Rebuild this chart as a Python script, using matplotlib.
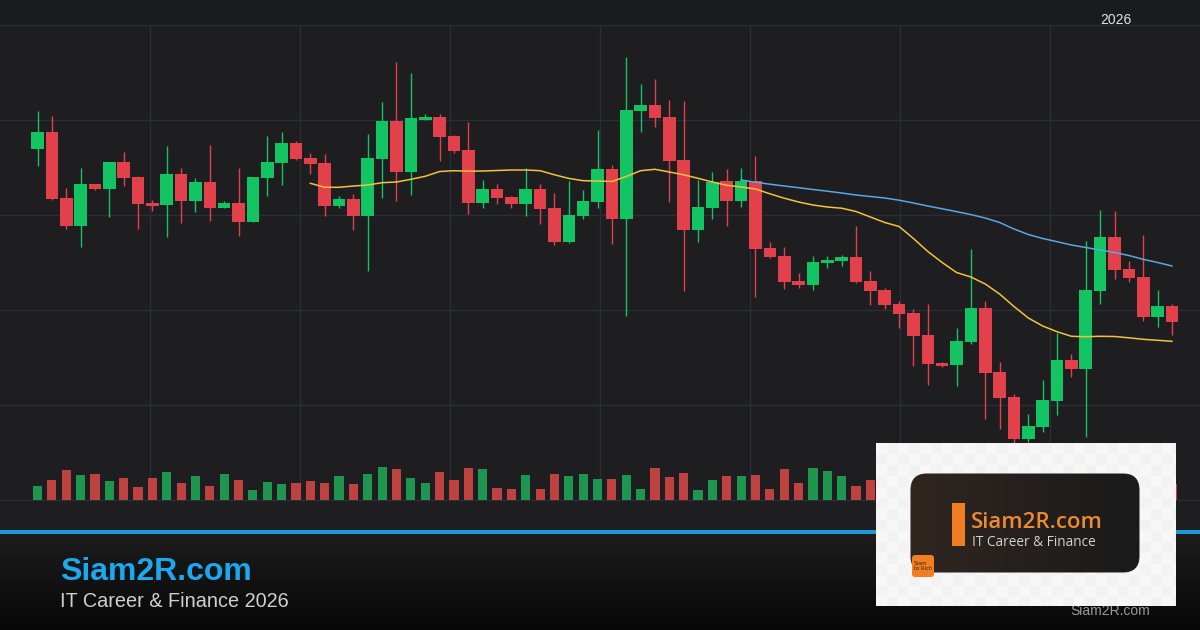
import numpy as np
import matplotlib
matplotlib.use("Agg")
import matplotlib.pyplot as plt
from matplotlib.patches import Rectangle, FancyBboxPatch

# ---------------- data ----------------
opens = [45.1, 46.83, 40.2, 37.43, 41.6, 41.13, 43.8, 42.3, 39.73, 39.53,
         42.6, 39.9, 41.8, 39.23, 39.7, 37.77, 42.23, 43.73, 45.7, 44.2,
         43.7, 39.43, 40.1, 38.43, 44.13, 47.9, 42.83, 48.03, 48.3, 46.4,
         45.0, 39.73, 41.1, 40.33, 39.63, 41.1, 39.23, 35.83, 38.43, 39.83,
         43.13, 38.13, 48.93, 49.5, 48.3, 44.0, 37.03, 39.23, 41.93, 39.93,
         41.93, 35.23, 34.43, 31.93, 31.53, 33.73, 33.93, 34.33, 31.93, 31.03,
         29.63, 28.73, 26.53, 23.73, 23.53, 25.83, 29.23, 22.83, 20.33, 16.13,
         17.33, 19.93, 24.03, 23.13, 30.93, 36.33, 33.13, 32.3, 28.33, 29.43]
highs = [48.9, 48.4, 41.23, 43.23, 41.6, 43.8, 44.8, 42.4, 40.0, 45.37,
         43.2, 42.2, 45.47, 39.93, 43.2, 42.33, 46.4, 46.8, 45.9, 44.7,
         44.57, 40.4, 40.6, 46.6, 49.8, 53.8, 52.7, 48.6, 48.6, 46.5,
         47.8, 42.0, 41.6, 40.43, 43.2, 41.6, 40.7, 41.9, 41.0, 47.0,
         43.5, 54.33, 51.63, 52.1, 50.0, 49.9, 42.03, 42.83, 43.13, 43.23,
         44.4, 35.83, 35.33, 32.73, 34.43, 34.43, 34.53, 37.43, 32.93, 31.23,
         29.93, 29.13, 29.6, 23.83, 27.23, 35.1, 29.93, 23.83, 20.57, 18.63,
         22.03, 26.73, 24.63, 35.93, 38.97, 38.87, 33.93, 36.53, 31.03, 29.6]
lows = [43.43, 40.0, 37.07, 35.33, 41.05, 38.33, 41.43, 37.13, 38.9, 36.33,
        37.73, 38.8, 37.93, 39.23, 36.43, 37.77, 40.43, 41.53, 44.0, 42.63,
        38.43, 39.23, 37.03, 32.93, 40.23, 39.9, 40.53, 48.03, 43.93, 44.7,
        38.63, 39.23, 39.63, 39.23, 38.43, 37.63, 35.53, 35.67, 38.13, 39.25,
        35.63, 28.43, 46.83, 47.33, 39.83, 30.93, 35.83, 38.13, 37.43, 39.33,
        30.33, 34.23, 31.13, 31.23, 31.03, 33.23, 33.43, 31.73, 29.47, 29.13,
        27.23, 23.43, 21.53, 23.33, 21.43, 25.63, 18.13, 17.13, 15.5, 15.83,
        16.83, 18.53, 22.33, 16.33, 29.63, 32.13, 31.83, 27.93, 27.33, 26.53]
closes = [46.83, 40.1, 37.43, 41.6, 41.13, 43.8, 42.23, 39.6, 39.43, 42.6,
          39.9, 41.8, 39.23, 39.7, 37.83, 42.3, 43.8, 45.7, 44.13, 43.63,
          39.43, 40.1, 38.43, 44.2, 47.9, 42.83, 48.2, 48.3, 46.33, 44.93,
          39.73, 41.1, 40.23, 39.63, 41.1, 39.13, 35.83, 38.53, 39.93, 43.13,
          38.13, 49.0, 49.5, 48.23, 43.93, 37.03, 39.33, 41.83, 39.93, 41.93,
          35.13, 34.33, 31.83, 31.53, 33.83, 34.03, 34.33, 31.83, 30.93, 29.53,
          28.63, 26.43, 23.63, 23.43, 25.93, 29.23, 22.73, 20.23, 16.13, 17.43,
          20.03, 24.03, 23.13, 31.03, 36.33, 33.03, 32.23, 28.33, 29.43, 27.83]
volumes = [1.4, 2.0, 3.0, 2.5, 2.6, 1.9, 2.2, 1.3, 2.2, 2.8,
           1.7, 2.4, 1.4, 2.6, 2.0, 1.0, 1.8, 1.6, 1.7, 1.9,
           1.7, 2.4, 1.6, 2.6, 3.3, 3.1, 2.2, 1.7, 2.8, 2.0,
           3.2, 3.1, 1.2, 1.1, 2.5, 1.1, 2.6, 2.4, 2.6, 2.1,
           2.1, 2.5, 1.1, 3.2, 2.3, 2.7, 1.0, 2.0, 2.4, 2.4,
           2.5, 1.1, 3.1, 1.7, 3.2, 2.9, 2.4, 1.4, 2.0, 1.8,
           1.5, 2.2, 2.6, 1.2, 2.0, 2.7, 3.0, 2.4, 2.8, 2.2,
           1.9, 2.5, 1.4, 3.3, 2.9, 2.6, 1.5, 2.0, 1.2, 1.6]
# moving average (fast) from candle 20, (slow) from candle 50
ma_fast_start = 20
ma_fast = [41.67, 41.27, 41.27, 41.4, 41.5, 41.73, 41.8, 42.07, 42.37, 42.85,
           42.93, 42.88, 42.9, 42.95, 43.0, 43.0, 42.93, 42.52, 42.16, 41.93,
           41.9, 41.85, 42.35, 42.93, 43.07, 42.8, 42.52, 42.17, 41.8, 41.47,
           41.3, 41.1, 40.62, 40.18, 39.8, 39.5, 39.3, 39.18, 38.85, 38.3,
           37.75, 37.35, 36.15, 34.85, 33.75, 32.75, 32.3, 31.6, 30.6, 29.35,
           28.2, 27.4, 26.83, 26.37, 26.33, 26.37, 26.35, 26.22, 26.07, 25.97,
           25.87]
ma_slow_start = 50
ma_slow = [42.0, 41.78, 41.58, 41.4, 41.23, 41.05, 40.88, 40.7, 40.5, 40.35,
           40.2, 39.98, 39.7, 39.4, 39.12, 38.84, 38.54, 38.2, 37.75, 37.1,
           36.55, 36.15, 35.83, 35.5, 35.25, 35.0, 34.75, 34.45, 34.07, 33.75,
           33.4]
header_label = "2026"
brand = "Siam2R.com"
tagline = "IT Career & Finance 2026"
logo_tag = "IT Career & Finance"

# ---------------- styling ----------------
W, H = 1200, 630
UP, DOWN = "#12c462", "#e2414b"
VUP, VDOWN = "#1f9650", "#be423f"
BG = "#1e1e20"
GRID = "#2b2e38"

fig = plt.figure(figsize=(W / 100, H / 100), dpi=100)
fig.patch.set_facecolor(BG)

# layout axes in pixel coordinates
bg = fig.add_axes([0, 0, 1, 1], zorder=0)
bg.set_xlim(0, W); bg.set_ylim(H, 0); bg.axis("off")
bg.add_patch(Rectangle((0, 0), W, 25, color="#1a1b1d", lw=0))
bg.add_patch(Rectangle((0, 25), W, 510, color=BG, lw=0))
for y in [25, 120, 215, 310, 405, 500]:
    bg.plot([0, W], [y, y], color=GRID, lw=0.9)
for x in [150, 300, 450, 600, 750, 900, 1050]:
    bg.plot([x, x], [25, 500], color=GRID, lw=0.9)

n = len(opens)
idx = np.arange(1, n + 1)
step = 14.36
x0 = 37.5
xlim = (1 - x0 / step, 1 + (W - x0) / step)

# volume axes: base at pixel row 500
vax = fig.add_axes([0, 130 / H, 1, 500 / H], zorder=1)
vax.set_xlim(*xlim); vax.set_ylim(0, 50); vax.axis("off")
o = np.array(opens); c = np.array(closes)
up = c >= o
vax.bar(idx, volumes, width=0.64, color=np.where(up, VUP, VDOWN), lw=0)

# price axes
ax = fig.add_axes([0, 0, 1, 1], zorder=2)
ax.set_xlim(*xlim); ax.set_ylim(-3, 60); ax.axis("off")
ax.patch.set_alpha(0)
cols = np.where(up, UP, DOWN)
ax.vlines(idx, lows, highs, colors=cols, lw=1.0)
body = np.maximum(np.abs(c - o), 0.15)
ax.bar(idx, body, bottom=np.minimum(o, c), width=0.88, color=cols, lw=0)
ax.plot(np.arange(ma_fast_start, ma_fast_start + len(ma_fast)), ma_fast,
        color="#f2c23c", lw=1.1)
ax.plot(np.arange(ma_slow_start, ma_slow_start + len(ma_slow)), ma_slow,
        color="#5aa6e6", lw=1.1)

# overlay: footer + logo
ov = fig.add_axes([0, 0, 1, 1], zorder=3)
ov.set_xlim(0, W); ov.set_ylim(H, 0); ov.axis("off"); ov.patch.set_alpha(0)
grad = np.linspace(0, 1, 100)[:, None]
top_c = np.array([28, 28, 28]) / 255; bot_c = np.array([8, 8, 8]) / 255
img = top_c[None, None, :] * (1 - grad[:, :, None]) + bot_c[None, None, :] * grad[:, :, None]
ov.imshow(img, extent=[0, W, H, 533], aspect="auto", zorder=1)
ov.add_patch(Rectangle((0, 530), W, 3.5, color="#1b9ad6", lw=0, zorder=2))
ov.text(60, 580, brand, color="#1aa8ee", fontsize=23, fontweight="bold",
        family="Liberation Sans", va="baseline", ha="left", zorder=3)
ov.text(60, 607, tagline, color="#d0d0d0", fontsize=14.3,
        family="Liberation Sans", va="baseline", ha="left", zorder=3)
ov.text(1110, 615, brand, color="#9a9a9a", fontsize=10,
        family="Liberation Sans", va="baseline", ha="center", zorder=3)
ov.text(1115.5, 24, header_label, color="#e2e2e2", fontsize=10,
        family="Liberation Sans", va="baseline", ha="center", zorder=3)

# logo card
lx0, ly0, lx1, ly1 = 876, 443, 1176, 606
yy, xx = np.mgrid[0:(ly1 - ly0), 0:(lx1 - lx0)]
chk = (((xx // 11) + (yy // 11)) % 2).astype(float)
chk_img = np.dstack([0.97 - 0.018 * chk] * 3)
ov.imshow(chk_img, extent=[lx0, lx1, ly1, ly0], aspect="auto", zorder=4,
          interpolation="nearest")
card = FancyBboxPatch((911, 474), 228, 98, boxstyle="round,pad=0,rounding_size=16",
                      fc="#1d1c1c", ec="#3a3838", lw=0.8, zorder=5)
ov.add_patch(card)
gx = np.linspace(0, 1, 200)[None, :]
cl = np.array([48, 38, 32]) / 255; cr = np.array([26, 26, 27]) / 255
gimg = cl[None, None, :] * (1 - gx[:, :, None]) + cr[None, None, :] * gx[:, :, None]
gim = ov.imshow(gimg, extent=[911, 1139, 572, 474], aspect="auto", zorder=5.5)
gim.set_clip_path(card)
ov.add_patch(Rectangle((952, 503), 12.5, 43, color="#ef7d22", lw=0, zorder=6))
ov.text(971, 528.5, brand, color="#f08a30", fontsize=16, fontweight="semibold",
        family="Open Sans", va="baseline", ha="left", zorder=6)
ov.text(972, 545.5, logo_tag, color="#d2d2d2", fontsize=9.8,
        family="Open Sans", va="baseline", ha="left", zorder=6)
badge = FancyBboxPatch((912, 555), 22, 22, boxstyle="round,pad=0,rounding_size=3",
                       fc="#f07f22", ec="none", zorder=6)
ov.add_patch(badge)
ov.text(914, 566, "Siam\nto Rich", color="#3a2412", fontsize=3.8,
        family="DejaVu Sans", va="center", ha="left", zorder=7, linespacing=1.0)

fig.savefig("out.png", dpi=100, facecolor=fig.get_facecolor())
